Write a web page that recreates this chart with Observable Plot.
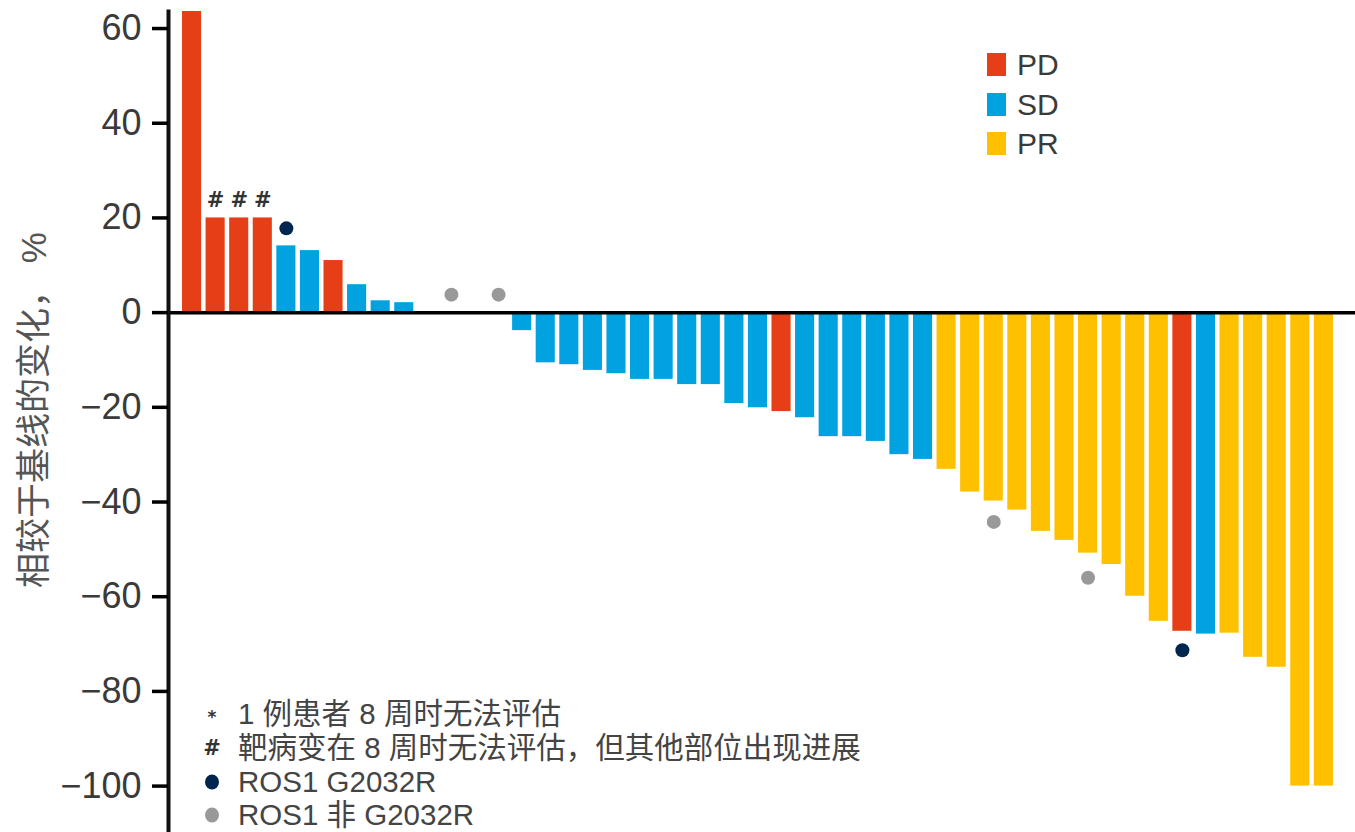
<!DOCTYPE html>
<html>
<head>
<meta charset="utf-8">
<script src="https://cdn.jsdelivr.net/npm/d3@7"></script>
<script src="https://cdn.jsdelivr.net/npm/@observablehq/plot@0.6"></script>
<style>
  body { margin: 0; background: #fff; }
  #wrap { position: relative; width: 1355px; height: 832px; overflow: hidden;
          font-family: "Liberation Sans", Arial, "Noto Sans CJK SC", sans-serif; }
  #wrap svg { display: block; }
  .lg { position: absolute; display: flex; align-items: center; height: 23px; }
  .lg .sw { width: 19px; height: 23px; }
  .lg .tx { margin-left: 11px; font-size: 30px; color: #3a3a3a; line-height: 23px; }
  .nt { position: absolute; left: 0; height: 0; }
  .nt .mk { position: absolute; left: 212px; top: 0; transform: translate(-50%, -50%); color: #333; font-weight: bold; line-height: 1; font-family: "DejaVu Sans", sans-serif; }
  .nt .tx { position: absolute; left: 238px; top: 0; transform: translateY(-50%); font-size: 29.5px; color: #444; white-space: nowrap; line-height: 1; }
  .dotmk { width: 14px; height: 15px; border-radius: 50%; }
</style>
</head>
<body>
<div id="wrap"></div>
<script>
// ---- data ----
const values = [64, 20, 20, 20, 14.1, 13.1, 11.0, 5.9, 2.5, 2.1,
  null, null, null, null,
  -3.8, -10.6, -11.0, -12.2, -12.9, -14.1, -14.1, -15.2, -15.2, -19.2,
  -20.1, -20.9, -22.2, -26.2, -26.2, -27.2, -30.0, -31.0,
  -33.1, -37.9, -39.8, -41.7, -46.2, -48.1, -50.8, -53.2, -59.9, -65.2,
  -67.3, -67.9, -67.7, -72.8, -74.9, -100, -100];
const responses = ["PD","PD","PD","PD","SD","SD","PD","SD","SD","SD",
  "SD","SD","SD","SD",
  "SD","SD","SD","SD","SD","SD","SD","SD","SD","SD",
  "SD","PD","SD","SD","SD","SD","SD","SD",
  "PR","PR","PR","PR","PR","PR","PR","PR","PR","PR",
  "PD","SD","PR","PR","PR","PR","PR"];
const patientIds = values.map((_, i) => i + 1);

const hashPatients = [2, 3, 4];            // "#" markers
const dotPatients  = [5, 12, 14, 35, 39, 43];
const dotValues    = [17.8, 3.8, 3.8, -44.2, -56.0, -71.3];
const dotTypes     = ["G2032R", "non", "non", "non", "non", "G2032R"];

const categories = ["PD", "SD", "PR"];
const catColors  = ["#e63f17", "#00a2e0", "#ffc000"];
const dotTypeDomain = ["G2032R", "non"];
const dotColors = ["#00264f", "#999999"];

const yTicks = [-100, -80, -60, -40, -20, 0, 20, 40, 60];
const yLabel = "相较于基线的变化， %";

const notes = [
  {mark: "*", text: "1 例患者 8 周时无法评估"},
  {mark: "#", text: "靶病变在 8 周时无法评估，但其他部位出现进展"},
  {mark: "dot0", text: "ROS1 G2032R"},
  {mark: "dot1", text: "ROS1 非 G2032R"}
];

// ---- tables ----
const bars = patientIds.map((id, i) => ({id, value: values[i], response: responses[i]}))
  .filter(d => d.value != null);
const hashes = hashPatients.map(id => ({id, value: values[id - 1]}));
const dots = dotPatients.map((id, i) => ({id, value: dotValues[i], type: dotTypes[i]}));
const dotColorOf = t => dotColors[dotTypeDomain.indexOf(t)];

const chart = Plot.plot({
  width: 1355,
  height: 832,
  marginTop: 11,
  marginBottom: 0,
  marginLeft: 168,
  marginRight: 0,
  style: {background: "white", fontFamily: '"Liberation Sans", Arial, "Noto Sans CJK SC", sans-serif'},
  x: {type: "band", domain: patientIds, paddingInner: 0.19, paddingOuter: 0.765, align: 0.388, round: false, axis: null},
  y: {domain: [-109.8, 63.6], axis: null},
  color: {domain: categories, range: catColors},
  marks: [
    Plot.barY(bars, {x: "id", y: "value", fill: "response", clip: true}),
    Plot.ruleY([0], {stroke: "#000", strokeWidth: 3.5}),
    Plot.frame({anchor: "left", stroke: "#111", strokeWidth: 4}),
    Plot.axisY({ticks: yTicks, tickSize: 16, tickPadding: 11, stroke: "#000", strokeWidth: 3.5,
                fill: "#3a3a3a", fontSize: 36, label: null}),
    Plot.dot(dots, {x: "id", y: "value", r: 7, fill: d => dotColorOf(d.type), stroke: "none"}),
    Plot.text(hashes, {x: "id", y: "value", text: () => "#", dy: -18, fontSize: 21, fontWeight: "bold",
                fontFamily: '"DejaVu Sans", sans-serif', fill: "#333"}),
    Plot.text([yLabel], {frameAnchor: "left", text: d => d, rotate: -90, dx: -134, dy: -12,
                fontSize: 35, fill: "#555", textAnchor: "middle"})
  ]
});

const wrap = document.getElementById("wrap");
wrap.appendChild(chart);

// legend
categories.forEach((c, i) => {
  const row = document.createElement("div");
  row.className = "lg";
  row.style.left = "987px";
  row.style.top = (53 + i * 39.5) + "px";
  row.innerHTML = `<div class="sw" style="background:${catColors[i]}"></div><div class="tx">${c}</div>`;
  wrap.appendChild(row);
});

// notes
const noteY = [714, 748, 782, 815];
notes.forEach((n, i) => {
  const row = document.createElement("div");
  row.className = "nt";
  row.style.top = noteY[i] + "px";
  let mk;
  if (n.mark === "*") mk = `<div class="mk" style="font-size:17px;margin-top:3px">*</div>`;
  else if (n.mark === "#") mk = `<div class="mk" style="font-size:21px">#</div>`;
  else mk = `<div class="mk"><div class="dotmk" style="background:${dotColors[+n.mark.slice(3)]}"></div></div>`;
  row.innerHTML = mk + `<div class="tx">${n.text}</div>`;
  wrap.appendChild(row);
});
</script>
</body>
</html>
